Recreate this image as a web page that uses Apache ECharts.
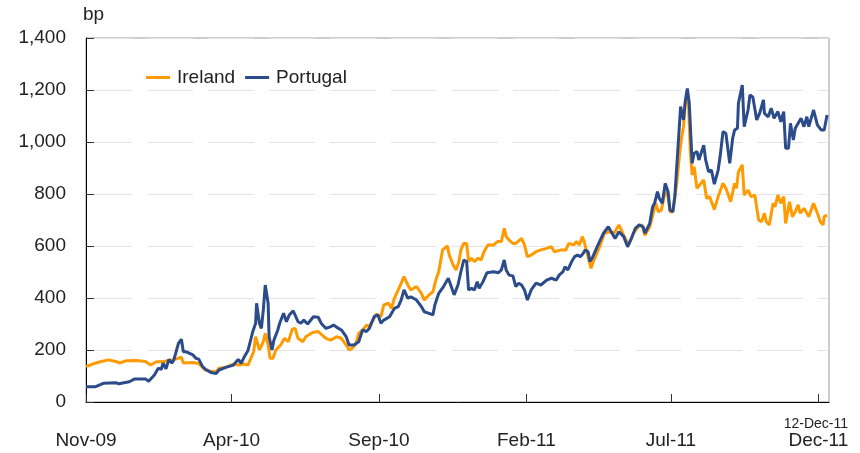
<!DOCTYPE html>
<html>
<head>
<meta charset="utf-8">
<script src="https://cdn.jsdelivr.net/npm/echarts@6/dist/echarts.min.js"></script>
<style>
html,body{margin:0;padding:0;background:#fff;}
#chart{width:860px;height:453px;}
</style>
</head>
<body>
<div id="chart"></div>
<script>
// Days are counted from this start date (1 Nov 2009)
const startDate = Date.UTC(2009, 10, 1);
const endDay = 771; // 12-Dec-11

const seriesNames = ['Ireland', 'Portugal'];

const irelandDay = [0,6,15,23,31,35,42,52,62,67,73,80,86,93,99,101,111,117,123,130,135,138,145,153,159,164,168,171,174,176,180,182,184,186,189,191,194,197,202,206,210,214,217,220,225,228,235,241,244,249,254,260,265,270,273,276,280,283,288,291,294,298,301,306,309,314,317,320,324,327,330,334,337,343,348,351,356,360,363,366,370,372,375,377,381,384,387,389,392,395,397,400,403,407,410,413,417,423,427,431,434,436,439,443,446,452,455,458,462,467,472,478,483,486,493,498,501,506,509,512,515,517,520,524,527,533,538,543,548,553,558,563,568,573,577,580,585,589,591,594,597,601,604,606,609,613,616,618,620,622,625,627,629,631,634,636,641,644,647,652,656,661,664,669,673,675,677,681,683,687,690,694,698,701,704,706,709,713,715,718,721,724,726,730,733,736,739,741,745,750,755,759,762,765,766,769];
const irelandBp = [136,145,155,162,156,150,159,160,156,142,155,155,160,165,172,150,152,148,125,117,116,130,133,146,142,146,142,168,194,251,200,194,232,264,219,168,168,200,219,245,232,280,283,245,232,251,267,271,261,245,238,251,245,219,200,206,223,264,280,296,290,315,338,328,373,380,360,399,431,456,482,450,431,444,418,392,412,424,469,501,585,591,600,565,527,508,540,585,610,610,540,553,540,553,546,578,604,604,617,617,668,636,623,610,610,629,604,559,565,578,585,591,597,578,585,585,610,604,617,604,636,617,572,514,546,597,649,655,649,681,641,604,649,674,681,641,674,732,764,732,738,809,790,732,732,841,956,1014,1059,1155,1174,969,873,905,822,815,854,783,790,740,790,841,822,770,841,822,886,912,796,815,790,796,700,693,726,693,681,764,751,796,764,790,687,770,713,732,758,726,745,713,764,726,693,681,713,719];

const portugalDay = [0,10,18,31,34,45,50,62,65,71,75,78,80,83,86,89,91,96,99,101,104,111,114,117,121,125,130,135,138,145,153,158,161,164,168,170,173,176,177,180,182,184,186,189,190,193,195,199,201,205,208,211,215,217,220,223,226,230,236,241,244,249,254,257,262,265,270,273,278,283,287,291,294,299,303,306,309,315,320,324,327,330,334,337,343,348,351,356,360,362,366,371,376,379,382,386,389,392,395,397,400,403,406,408,412,416,423,428,431,434,436,439,443,446,449,452,455,458,462,467,472,478,483,488,491,495,497,500,504,507,510,513,516,518,521,523,526,532,537,542,545,549,553,558,562,566,570,574,578,580,585,588,590,593,595,598,601,604,606,609,611,615,617,620,622,624,626,629,631,634,636,641,643,646,649,652,656,658,661,664,668,671,673,676,677,681,683,687,689,692,696,699,703,704,708,711,714,718,721,724,726,729,731,734,736,739,742,745,748,750,755,759,763,766,769];
const portugalBp = [59,59,72,74,70,78,88,88,80,104,130,125,149,128,164,150,160,226,241,193,193,181,168,165,136,123,113,110,123,133,142,164,149,172,197,197,270,302,380,302,283,354,450,380,251,200,238,277,303,341,309,335,351,351,309,303,315,300,328,326,303,283,290,296,283,277,251,219,219,232,277,271,283,328,335,303,315,328,360,367,392,431,399,405,392,367,347,341,335,373,418,444,476,444,412,450,501,546,540,431,437,431,463,437,463,497,501,497,508,546,508,488,485,444,457,450,431,392,431,457,450,469,476,469,488,501,520,508,540,559,565,559,572,585,578,540,559,610,649,674,655,629,655,636,597,629,668,681,674,649,687,751,764,809,783,764,841,809,738,732,790,1020,1136,1085,1162,1206,1149,918,956,963,931,988,931,886,892,838,892,944,1040,1033,918,1014,1046,1053,1149,1219,1059,1123,1181,1172,1085,1110,1162,1110,1097,1130,1091,1117,1078,1117,976,976,1072,1008,1053,1072,1091,1059,1097,1059,1123,1065,1046,1046,1104];

// x-axis ticks (first day of month, days since start) and their labels
const xTickDays = [0,151,304,457,607,760];
const xTickLabels = ['Nov-09','Apr-10','Sep-10','Feb-11','Jul-11','Dec-11'];
const yTicks = [0,200,400,600,800,1000,1200,1400];

const zip = (d, v) => d.map((x, i) => [x, v[i]]);

const chart = echarts.init(document.getElementById('chart'), null, {renderer: 'canvas'});
const FONT = '"Liberation Sans", Arial, sans-serif';

chart.setOption({
  animation: false,
  backgroundColor: '#fff',
  textStyle: {fontFamily: FONT},
  grid: {left: 86, right: 31, top: 38, bottom: 51, show: true, borderColor: '#9a9a9a', borderWidth: 1, backgroundColor: 'transparent'},
  legend: {
    data: seriesNames,
    left: 146, top: 68, padding: 0,
    itemWidth: 24, itemHeight: 3, itemGap: 10,
    icon: 'rect',
    textStyle: {fontFamily: FONT, fontSize: 19, color: '#222', padding: [0,0,0,2]}
  },
  xAxis: {
    type: 'value', min: 0, max: endDay,
    axisLine: {show: true, onZero: false, lineStyle: {color: '#000', width: 1}},
    axisTick: {show: true, inside: true, length: 8, customValues: xTickDays, lineStyle: {color: '#333', width: 1}},
    axisLabel: {
      customValues: xTickDays,
      margin: 29, fontSize: 19, color: '#222', fontFamily: FONT,
      formatter: v => { const i = xTickDays.indexOf(v); return i >= 0 ? xTickLabels[i] : ''; }
    },
    splitLine: {show: false}
  },
  yAxis: {
    type: 'value', min: yTicks[0], max: yTicks[yTicks.length-1], interval: 200,
    axisLine: {show: true, lineStyle: {color: '#000', width: 1}},
    axisTick: {show: true, inside: true, length: 8, lineStyle: {color: '#333'}},
    axisLabel: {margin: 20, fontSize: 19, color: '#222', fontFamily: FONT,
      formatter: v => v.toLocaleString('en-US')},
    splitLine: {show: true, lineStyle: {color: '#e3e3e3', width: 1, type: [46, 15]}}
  },
  graphic: [
    {type: 'text', left: 83, top: 5, style: {text: 'bp', fontSize: 19, fill: '#222', fontFamily: FONT}},
    {type: 'text', right: 12, top: 417, style: {text: '12-Dec-11', fontSize: 14, fill: '#222', fontFamily: FONT}}
  ],
  series: [
    {name: seriesNames[0], type: 'line', data: zip(irelandDay, irelandBp), showSymbol: false, symbol: 'none',
     lineStyle: {color: '#FF9B00', width: 3}, itemStyle: {color: '#FF9B00'}, z: 2},
    {name: seriesNames[1], type: 'line', data: zip(portugalDay, portugalBp), showSymbol: false, symbol: 'none',
     lineStyle: {color: '#2B4B8A', width: 3}, itemStyle: {color: '#2B4B8A'}, z: 3}
  ]
});
</script>
</body>
</html>
